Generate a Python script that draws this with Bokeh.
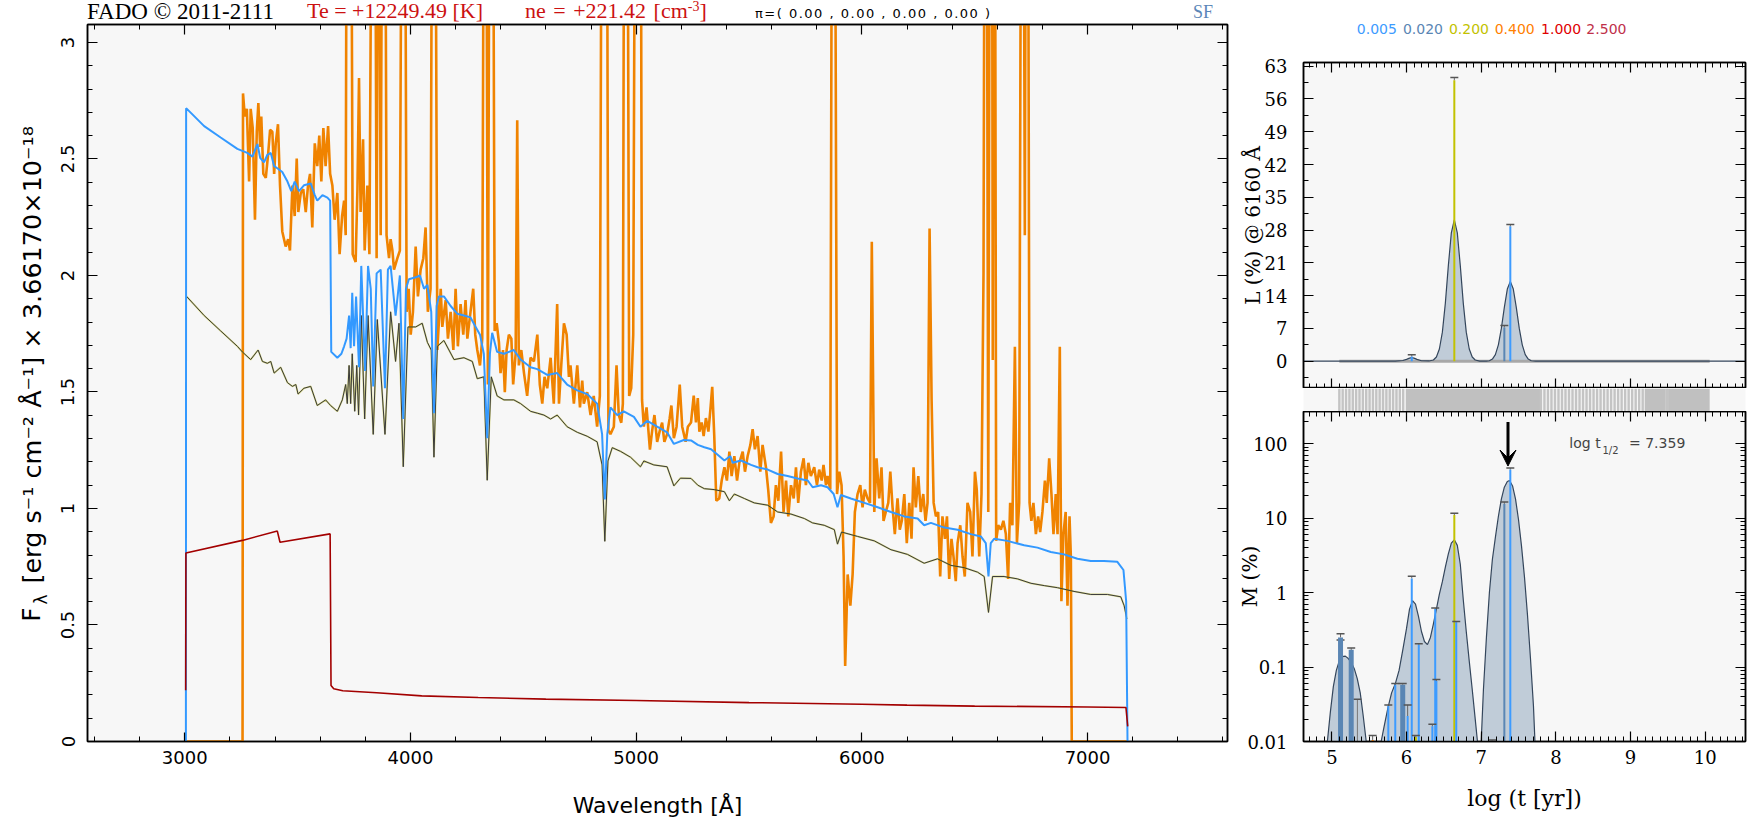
from math import pi
from bokeh.plotting import figure
from bokeh.layouts import row, column
from bokeh.models import (Range1d, LinearAxis, LogAxis, SingleIntervalTicker, FixedTicker,
                          CustomJSTickFormatter, Label, Arrow, VeeHead, Div)
from bokeh.core.properties import value
from bokeh.embed import file_html
from bokeh.resources import INLINE

T = 4.5  # emission peaks running off the top of the panel

# ---------------- header values ----------------
Te_K = 12249.49
ne_cm3 = 221.42
pi_vals = [0.00, 0.00, 0.00, 0.00]

# ---------------- main panel: spectra (wavelength [A], flux) ----------------
orange_obs = [
    (3005, 0.0), (3256, 0.0), (3258, 2.781), (3266, 2.682), (3275, 2.715), (3285, 2.403), (3292, 2.715),
    (3301, 2.633), (3311, 2.239), (3319, 2.617), (3326, 2.740), (3334, 2.551), (3339, 2.682), (3348, 2.436),
    (3359, 2.419), (3369, 2.518), (3378, 2.625), (3388, 2.617), (3396, 2.436), (3403, 2.567), (3413, 2.649),
    (3422, 2.386), (3432, 2.189), (3447, 2.124), (3458, 2.156), (3466, 2.107), (3477, 2.386), (3487, 2.255),
    (3496, 2.502), (3503, 2.272), (3514, 2.354), (3525, 2.370), (3536, 2.272), (3546, 2.386), (3555, 2.436),
    (3565, 2.206), (3576, 2.567), (3587, 2.469), (3596, 2.600), (3605, 2.403), (3614, 2.633), (3624, 2.469),
    (3635, 2.641), (3644, 2.436), (3654, 2.386), (3664, 2.239), (3676, 2.354), (3686, 2.091), (3697, 2.255),
    (3706, 2.321), (3713, 2.173), (3719, T), (3735, T), (3744, 2.091), (3757, 2.058), (3765, 2.370),
    (3772, 2.847), (3779, 2.272), (3790, 2.584), (3797, 2.107), (3809, 2.386), (3818, 2.091), (3832, T),
    (3841, T), (3850, 2.074), (3859, T), (3868, 2.173), (3877, T), (3886, T), (3894, 2.173), (3905, 2.074),
    (3912, 2.156), (3920, 2.107), (3927, 2.025), (3942, 2.074), (3953, 2.107), (3964, T), (3974, T),
    (3983, 1.844), (3992, 1.943), (4001, 1.746), (4011, 1.844), (4023, 2.124), (4033, 1.910), (4045, 2.025),
    (4057, 2.074), (4067, 2.206), (4077, 1.844), (4089, 1.943), (4098, T), (4108, T), (4119, 1.680),
    (4134, 1.943), (4141, 1.779), (4156, 1.894), (4166, 1.729), (4178, 1.844), (4190, 1.680), (4200, 1.943),
    (4210, 1.696), (4222, 1.877), (4234, 1.746), (4244, 1.894), (4252, 1.729), (4266, 1.844), (4278, 1.943),
    (4287, 1.746), (4296, 1.680), (4308, 1.614), (4318, 1.729), (4327, T), (4334, T), (4343, 1.532),
    (4352, T), (4364, T), (4373, 1.762), (4382, 1.795), (4392, 1.713), (4399, 1.581), (4410, 1.680),
    (4418, 1.499), (4426, 1.680), (4436, 1.746), (4447, 1.729), (4455, 1.532), (4466, 1.664), (4473, 2.666),
    (4480, 1.614), (4491, 1.680), (4503, 1.581), (4517, 1.483), (4532, 1.647), (4547, 1.631), (4562, 1.746),
    (4573, 1.532), (4584, 1.450), (4594, 1.565), (4606, 1.516), (4621, 1.647), (4635, 1.450), (4650, 1.877),
    (4658, 1.450), (4668, 1.614), (4680, 1.795), (4692, 1.746), (4702, 1.565), (4709, 1.614), (4724, 1.450),
    (4739, 1.614), (4751, 1.434), (4761, 1.549), (4768, 1.450), (4783, 1.499), (4798, 1.401), (4812, 1.483),
    (4827, 1.351), (4839, 1.483), (4849, T), (4869, T), (4877, 1.335), (4886, 1.319), (4901, 1.351),
    (4913, 1.614), (4923, 1.401), (4934, 1.368), (4941, 1.450), (4948, T), (4960, T), (4969, 1.483),
    (4978, 1.516), (4987, 1.746), (4997, T), (5019, T), (5026, 1.466), (5034, 1.351), (5046, 1.434),
    (5061, 1.253), (5071, 1.335), (5081, 1.401), (5093, 1.286), (5105, 1.335), (5115, 1.368), (5125, 1.286),
    (5137, 1.319), (5148, 1.384), (5156, 1.442), (5167, 1.302), (5179, 1.351), (5193, 1.532), (5204, 1.351),
    (5219, 1.286), (5229, 1.351), (5243, 1.369), (5255, 1.484), (5265, 1.369), (5273, 1.474), (5280, 1.330),
    (5290, 1.369), (5299, 1.311), (5309, 1.388), (5320, 1.330), (5329, 1.426), (5337, 1.522), (5346, 1.311),
    (5355, 1.033), (5368, 1.043), (5379, 1.120), (5391, 1.177), (5402, 1.120), (5413, 1.244), (5423, 1.139),
    (5435, 1.225), (5447, 1.120), (5457, 1.196), (5472, 1.244), (5482, 1.158), (5494, 1.225), (5506, 1.273),
    (5516, 1.340), (5526, 1.254), (5538, 1.311), (5550, 1.158), (5560, 1.273), (5575, 1.177), (5585, 1.081),
    (5597, 0.938), (5609, 0.966), (5619, 1.100), (5630, 1.033), (5642, 1.244), (5653, 0.985), (5664, 1.120),
    (5674, 0.966), (5686, 1.100), (5698, 1.043), (5708, 1.177), (5718, 1.024), (5730, 1.158), (5742, 1.215),
    (5752, 1.100), (5763, 1.196), (5774, 1.139), (5789, 1.177), (5801, 1.100), (5811, 1.167), (5822, 1.120),
    (5830, 1.187), (5841, 1.100), (5848, 1.139), (5860, 1.081), (5869, T), (5879, T), (5890, 1.062),
    (5900, 1.158), (5910, 1.100), (5919, 0.794), (5926, 0.324), (5937, 0.717), (5949, 0.583), (5959, 0.717),
    (5969, 0.985), (5981, 1.062), (5993, 1.100), (6003, 1.005), (6013, 1.081), (6025, 1.043), (6036, 1.024),
    (6044, 2.145), (6055, 0.985), (6065, 1.215), (6077, 1.043), (6087, 1.177), (6096, 0.947), (6106, 0.985),
    (6117, 1.024), (6126, 1.158), (6136, 1.005), (6146, 0.890), (6158, 1.043), (6168, 0.909), (6177, 0.947),
    (6188, 1.062), (6199, 0.851), (6210, 1.024), (6220, 0.870), (6229, 1.177), (6239, 1.005), (6250, 1.139),
    (6261, 0.985), (6272, 1.062), (6282, 0.947), (6291, 1.024), (6300, 2.202), (6309, 1.464), (6318, 1.024),
    (6328, 0.966), (6338, 0.985), (6347, 0.708), (6357, 0.966), (6368, 0.870), (6377, 0.966), (6387, 0.698),
    (6397, 0.870), (6406, 0.794), (6416, 0.688), (6424, 0.851), (6436, 0.928), (6446, 0.794), (6456, 0.708),
    (6468, 1.024), (6480, 0.985), (6490, 0.794), (6501, 1.158), (6509, 1.081), (6520, 0.794), (6530, 1.062),
    (6539, 2.010), (6545, T), (6552, T), (6560, 0.985), (6568, T), (6576, T), (6580, 1.637), (6585, T),
    (6589, T), (6595, 0.861), (6604, 0.928), (6616, 0.909), (6627, 0.947), (6638, 0.890), (6648, 0.698),
    (6657, 1.024), (6667, 0.928), (6678, 1.694), (6687, 0.851), (6697, 1.024), (6707, T), (6715, T),
    (6722, 2.173), (6728, T), (6735, T), (6743, 1.024), (6751, 0.947), (6760, 1.024), (6771, 0.890),
    (6781, 0.966), (6790, 0.899), (6800, 0.985), (6811, 1.120), (6819, 1.024), (6830, 1.215), (6840, 1.062),
    (6849, 0.890), (6859, 1.062), (6867, 0.890), (6877, 1.694), (6884, 0.602), (6893, 0.890), (6903, 0.985),
    (6911, 0.583), (6920, 0.966), (6926, 0.794), (6930, 0.0), (7177, 0.0),
]

blue_fit = [
    (3005, 0.0), (3006, 2.718), (3086, 2.641), (3159, 2.592), (3233, 2.543), (3277, 2.526), (3300, 2.510),
    (3322, 2.564), (3334, 2.505), (3351, 2.485), (3366, 2.518), (3381, 2.526), (3396, 2.469), (3410, 2.460),
    (3432, 2.444), (3455, 2.403), (3472, 2.362), (3487, 2.403), (3506, 2.362), (3528, 2.387), (3558, 2.395),
    (3576, 2.345), (3587, 2.321), (3610, 2.345), (3632, 2.334), (3644, 2.321), (3649, 1.672), (3676, 1.647),
    (3694, 1.664), (3706, 1.696), (3717, 1.729), (3728, 1.828), (3735, 1.688), (3742, 1.926), (3750, 1.696),
    (3759, 1.910), (3772, 1.606), (3782, 2.041), (3799, 1.590), (3812, 2.041), (3824, 1.943), (3835, 1.524),
    (3850, 2.009), (3868, 2.025), (3887, 1.516), (3900, 2.025), (3912, 2.041), (3934, 1.828), (3953, 2.000),
    (3968, 1.384), (3980, 1.943), (3993, 1.984), (4023, 1.992), (4042, 2.000), (4060, 1.943), (4075, 1.959),
    (4092, 1.844), (4104, 1.409), (4116, 1.869), (4126, 1.910), (4148, 1.910), (4178, 1.869), (4207, 1.836),
    (4237, 1.828), (4266, 1.820), (4289, 1.779), (4308, 1.746), (4325, 1.664), (4340, 1.302), (4352, 1.664),
    (4362, 1.754), (4384, 1.672), (4414, 1.664), (4458, 1.680), (4488, 1.639), (4532, 1.606), (4562, 1.598),
    (4606, 1.573), (4650, 1.581), (4694, 1.532), (4739, 1.507), (4783, 1.491), (4827, 1.450), (4849, 1.319),
    (4861, 1.039), (4872, 1.319), (4886, 1.434), (4916, 1.401), (4945, 1.417), (4990, 1.393), (5019, 1.351),
    (5049, 1.376), (5093, 1.351), (5137, 1.327), (5167, 1.277), (5211, 1.294), (5243, 1.292), (5273, 1.273),
    (5302, 1.263), (5332, 1.254), (5361, 1.231), (5391, 1.206), (5417, 1.225), (5428, 1.196), (5464, 1.206),
    (5509, 1.187), (5538, 1.177), (5583, 1.167), (5627, 1.148), (5671, 1.139), (5715, 1.129), (5760, 1.120),
    (5782, 1.091), (5819, 1.100), (5848, 1.091), (5875, 1.062), (5892, 1.005), (5907, 1.058), (5951, 1.043),
    (6011, 1.024), (6070, 1.005), (6129, 0.985), (6188, 0.966), (6247, 0.957), (6276, 0.928), (6306, 0.938),
    (6365, 0.918), (6424, 0.909), (6483, 0.890), (6527, 0.880), (6549, 0.851), (6561, 0.708), (6571, 0.851),
    (6586, 0.870), (6645, 0.861), (6719, 0.842), (6778, 0.832), (6837, 0.813), (6896, 0.803), (6955, 0.784),
    (7014, 0.775), (7073, 0.775), (7132, 0.771), (7159, 0.736), (7171, 0.602), (7177, 0.0),
]

stellar = [
    (3008, 1.910), (3086, 1.828), (3159, 1.762), (3233, 1.696), (3255, 1.672), (3292, 1.639), (3325, 1.680),
    (3344, 1.631), (3366, 1.623), (3381, 1.631), (3396, 1.581), (3425, 1.606), (3455, 1.540), (3477, 1.524),
    (3492, 1.532), (3502, 1.491), (3528, 1.516), (3558, 1.524), (3587, 1.442), (3624, 1.466), (3646, 1.442),
    (3676, 1.417), (3698, 1.466), (3713, 1.532), (3720, 1.450), (3728, 1.614), (3735, 1.450), (3742, 1.664),
    (3753, 1.417), (3762, 1.614), (3770, 1.401), (3782, 1.828), (3797, 1.384), (3812, 1.828), (3835, 1.318),
    (3853, 1.811), (3887, 1.318), (3912, 1.844), (3934, 1.631), (3949, 1.795), (3968, 1.179), (3989, 1.779),
    (4023, 1.779), (4052, 1.795), (4075, 1.713), (4092, 1.680), (4104, 1.220), (4119, 1.696), (4148, 1.721),
    (4193, 1.639), (4237, 1.647), (4274, 1.631), (4296, 1.557), (4325, 1.565), (4340, 1.121), (4358, 1.565),
    (4384, 1.483), (4414, 1.466), (4458, 1.466), (4488, 1.450), (4532, 1.417), (4562, 1.409), (4591, 1.401),
    (4621, 1.384), (4650, 1.401), (4694, 1.351), (4739, 1.327), (4783, 1.310), (4827, 1.286), (4849, 1.187),
    (4861, 0.859), (4875, 1.204), (4894, 1.261), (4931, 1.245), (4975, 1.220), (5019, 1.179), (5034, 1.204),
    (5078, 1.187), (5137, 1.179), (5167, 1.097), (5196, 1.130), (5243, 1.129), (5273, 1.100), (5302, 1.085),
    (5346, 1.081), (5391, 1.072), (5413, 1.033), (5435, 1.062), (5479, 1.043), (5523, 1.024), (5583, 1.014),
    (5627, 0.985), (5686, 0.976), (5745, 0.957), (5782, 0.938), (5833, 0.928), (5878, 0.909), (5892, 0.847),
    (5910, 0.899), (5981, 0.880), (6055, 0.861), (6129, 0.823), (6202, 0.803), (6276, 0.765), (6335, 0.784),
    (6394, 0.756), (6453, 0.746), (6512, 0.727), (6542, 0.708), (6561, 0.554), (6579, 0.708), (6630, 0.708),
    (6689, 0.698), (6749, 0.679), (6808, 0.669), (6867, 0.660), (6940, 0.644), (7014, 0.631), (7088, 0.631),
    (7147, 0.621), (7162, 0.583), (7174, 0.526),
]

nebular = [
    (3004, 0.22), (3005, 0.809), (3255, 0.863), (3410, 0.903), (3422, 0.855), (3644, 0.891), (3648, 0.240),
    (3660, 0.226), (3700, 0.218), (3850, 0.209), (4050, 0.196), (4300, 0.189), (4600, 0.182), (5000, 0.176),
    (5500, 0.167), (6000, 0.160), (6200, 0.156), (6500, 0.152), (7000, 0.148), (7170, 0.146), (7178, 0.065),
]

# ---------------- right panels: star-formation history ----------------
Z_labels = ["0.005", "0.020", "0.200", "0.400", "1.000", "2.500"]

L_logt = [4.62, 5.85, 5.95, 6.00, 6.04, 6.07, 6.10, 6.14, 6.20, 6.30, 6.36, 6.40, 6.44, 6.48, 6.52,
          6.56, 6.60, 6.64, 6.68, 6.72, 6.76, 6.80, 6.84, 6.88, 6.92, 6.98, 7.07, 7.11, 7.15, 7.19,
          7.23, 7.27, 7.31, 7.35, 7.39, 7.43, 7.47, 7.51, 7.55, 7.59, 7.63, 7.67, 7.73, 7.80, 10.54]
L_pct = [0.0, 0.0, 0.15, 0.4, 0.65, 0.75, 0.65, 0.4, 0.1, 0.05, 0.25, 0.9, 2.6, 6.2, 12.4,
         20.4, 27.4, 30.2, 27.4, 20.4, 12.4, 6.2, 2.6, 0.9, 0.25, 0.03, 0.02, 0.1, 0.45, 1.4,
         3.5, 7.0, 11.5, 15.4, 17.0, 15.4, 11.5, 7.0, 3.5, 1.4, 0.45, 0.1, 0.02, 0.0, 0.0]

L_bar_logt = [6.07, 6.64, 7.31, 7.39]
L_bar_pct = [1.0, 60.0, 7.2, 28.8]
L_bar_top = [1.4, 60.6, 7.6, 29.2]
L_bar_z = ["0.005", "0.200", "0.020", "0.005"]

M_logt = [4.62, 4.93, 4.94, 4.98, 5.02, 5.06, 5.10, 5.14, 5.18, 5.22, 5.26, 5.30, 5.34, 5.38, 5.42,
          5.46, 5.47, 5.65, 5.66, 5.70, 5.75, 5.80, 5.85, 5.90, 5.95, 6.00, 6.04, 6.08, 6.12, 6.16,
          6.20, 6.24, 6.28, 6.32, 6.36, 6.40, 6.44, 6.48, 6.52, 6.56, 6.60, 6.64, 6.68, 6.72, 6.76,
          6.80, 6.84, 6.88, 6.92, 6.95, 6.96, 6.99, 7.00, 7.03, 7.07, 7.11, 7.15, 7.19, 7.23, 7.27,
          7.31, 7.35, 7.38, 7.42, 7.46, 7.50, 7.54, 7.58, 7.62, 7.66, 7.70, 7.72, 7.73, 10.54]
M_pct = [1e-4, 1e-4, 0.01, 0.025, 0.055, 0.09, 0.122, 0.138, 0.14, 0.13, 0.115, 0.095, 0.07, 0.045, 0.022,
         0.01, 1e-4, 1e-4, 0.01, 0.016, 0.028, 0.045, 0.06, 0.09, 0.17, 0.33, 0.6, 0.78, 0.7, 0.48,
         0.3, 0.22, 0.2, 0.25, 0.38, 0.6, 0.95, 1.4, 2.2, 3.3, 4.6, 5.1, 4.3, 2.4, 0.8,
         0.3, 0.12, 0.05, 0.02, 0.01, 1e-4, 1e-4, 0.01, 0.05, 0.25, 1.0, 2.8, 5.5, 10.5, 18.0,
         26.0, 31.0, 32.0, 27.0, 18.0, 9.5, 4.2, 1.6, 0.5, 0.13, 0.03, 0.01, 1e-4, 1e-4]

M_bar_logt = [5.116, 5.259, 5.546, 5.756, 5.849, 5.949, 6.015, 6.07, 6.125, 6.164, 6.346, 6.384, 6.40,
              6.64, 6.666, 7.31, 7.39]
M_bar_pct = [0.25, 0.17, 0.0105, 0.030, 0.058, 0.058, 0.022, 1.55, 0.0115, 0.20, 0.016, 0.60, 0.065,
             11.0, 0.40, 15.5, 45.0]
M_bar_top = [0.28, 0.18, 0.012, 0.031, 0.060, 0.060, 0.031, 1.65, 0.012, 0.205, 0.017, 0.62, 0.068,
             11.6, 0.41, 16.5, 47.0]
M_bar_z = ["0.020", "0.020", "0.400", "0.005", "0.005", "0.020", "0.005", "0.005", "0.200", "0.005",
           "0.005", "0.005", "0.005", "0.200", "0.005", "0.020", "0.005"]
M_err_logt = [5.116, 5.342, 7.146]
M_err_lo = [0.025, 1e-4, 1e-4]
M_err_hi = [0.23, 0.037, 0.0105]

base_sparse_logt = [5.100, 5.145, 5.190, 5.235, 5.280, 5.325, 5.370, 5.415, 5.460, 5.505, 5.550, 5.595,
                    5.640, 5.685, 5.730, 5.775, 5.820, 5.865, 5.910, 5.955, 7.800, 7.847, 7.894, 7.941,
                    7.988, 8.035, 8.082, 8.129, 8.176, 8.223, 8.270, 8.317, 8.364, 8.411, 8.458, 8.505,
                    8.552, 8.599, 8.646, 8.693, 8.740, 8.787, 8.834, 8.881, 8.928, 8.975, 9.022, 9.069,
                    9.116, 9.163, 9.480, 9.500]
base_dense_lo = [5.99, 9.19, 9.515]
base_dense_hi = [7.79, 9.465, 10.06]

logt_half = 7.359

# ---------------- styling ----------------
ZCOL = {"0.005": "#3d9bff", "0.020": "#5a86b4", "0.200": "#c2c200",
        "0.400": "#ff8000", "1.000": "#e00000", "2.500": "#c0304a"}
BG = "#f7f7f7"
SANS = "DejaVu Sans"
SERIF = "DejaVu Serif"


def style(ax, tick_in, minor_in, font=SANS, size="18px", standoff=10, labels=True):
    ax.major_tick_in = tick_in
    ax.major_tick_out = 0
    ax.minor_tick_in = minor_in
    ax.minor_tick_out = 0
    ax.axis_line_color = "black"
    ax.axis_line_width = 1.5
    ax.major_tick_line_color = "black"
    ax.minor_tick_line_color = "black"
    ax.major_tick_line_width = 1.2
    ax.minor_tick_line_width = 1.0
    if labels:
        ax.major_label_text_font = font
        ax.major_label_text_font_size = size
        ax.major_label_text_color = "black"
        ax.major_label_standoff = standoff
    else:
        ax.formatter = CustomJSTickFormatter(code="return '';")
        ax.major_label_text_font_size = "0px"
        ax.major_label_standoff = 0


def axlabel(ax, text, font, size, standoff):
    ax.axis_label = text
    ax.axis_label_text_font = font
    ax.axis_label_text_font_size = size
    ax.axis_label_text_font_style = "normal"
    ax.axis_label_text_color = "black"
    ax.axis_label_standoff = standoff


def xs(pairs):
    return [a for a, _ in pairs]


def ys(pairs):
    return [b for _, b in pairs]


def plain(fig):
    fig.outline_line_color = None
    fig.grid.visible = False
    return fig


# ---------------- header (HTML text line above the spectrum) ----------------
sp = "position:absolute;white-space:nowrap;"
pi_txt = "π=( " + " , ".join("%.2f" % v for v in pi_vals) + " )"
header_html = (
    '<div style="position:relative;width:1235px;height:23px;">'
    f'<span style="{sp}left:87px;top:0px;line-height:23px;font-family:\'Liberation Serif\';'
    'font-size:23px;color:#000;">FADO © 2011-2111</span>'
    f'<span style="{sp}left:307px;top:0px;line-height:22px;font-family:\'Liberation Serif\';'
    f'font-size:22px;color:#cc1111;">Te = +{Te_K:.2f} [K]</span>'
    f'<span style="{sp}left:525px;top:0px;line-height:22px;font-family:\'Liberation Serif\';'
    f'font-size:22px;color:#cc1111;word-spacing:2px;">ne = +{ne_cm3:.2f} [cm'
    '<sup style="font-size:14px;vertical-align:7px;line-height:0;">-3</sup>]</span>'
    f'<span style="{sp}left:755px;top:7px;line-height:13px;font-family:\'DejaVu Sans\';'
    f'font-size:13px;letter-spacing:1.5px;color:#000;">{pi_txt}</span>'
    f'<span style="{sp}left:1193px;top:3px;line-height:18px;font-family:\'Liberation Serif\';'
    'font-size:18px;color:#5b86b8;">SF</span>'
    '</div>'
)
header = Div(text=header_html, width=1235, height=23, margin=(0, 0, 0, 0))

# ---------------- main figure ----------------
YR = Range1d(0, 3.077)
main = figure(width=1185, height=802, x_range=Range1d(2569, 7620), y_range=YR,
              output_backend="svg", toolbar_location=None,
              min_border_left=37, min_border_right=8, min_border_top=1, min_border_bottom=84,
              background_fill_color=BG, border_fill_color="white")
main.outline_line_color = "black"
main.outline_line_width = 1.5
main.grid.visible = False

main.line(xs(orange_obs), ys(orange_obs), line_color="#f08300", line_width=2.6)
main.line(xs(stellar), ys(stellar), line_color="#b5b500", line_width=1.8, line_alpha=0.45)
main.line(xs(stellar), ys(stellar), line_color="#3a3a3a", line_width=1.0)
main.line(xs(blue_fit), ys(blue_fit), line_color="#3399ff", line_width=2.0)
main.line(xs(nebular), ys(nebular), line_color="#a30000", line_width=1.6)

main.xaxis[0].ticker = SingleIntervalTicker(interval=1000, num_minor_ticks=5)
main.yaxis[0].ticker = SingleIntervalTicker(interval=0.5, num_minor_ticks=5)
main.yaxis[0].formatter = CustomJSTickFormatter(code="return String(Number(tick.toFixed(2)));")
main.yaxis[0].major_label_orientation = "vertical"
style(main.xaxis[0], 9, 5, standoff=9)
style(main.yaxis[0], 10, 5, standoff=13)
axlabel(main.xaxis[0], "Wavelength [Å]", SANS, "22px", 26)
ax_r = LinearAxis(ticker=SingleIntervalTicker(interval=0.5, num_minor_ticks=5))
style(ax_r, 10, 5, labels=False)
main.add_layout(ax_r, "right")
ax_t = LinearAxis(ticker=SingleIntervalTicker(interval=1000, num_minor_ticks=5))
style(ax_t, 10, 5, labels=False)
main.add_layout(ax_t, "above")

# y-axis title (with subscript) in its own strip, sharing the flux scale
ylab = plain(figure(width=50, height=802, x_range=Range1d(0, 50), y_range=YR,
                    output_backend="svg", toolbar_location=None,
                    min_border_left=0, min_border_right=0, min_border_top=1, min_border_bottom=84,
                    x_axis_location=None, y_axis_location=None,
                    background_fill_color="white", border_fill_color="white"))
ylab.text(x=[31], y=[0.515], text=["F"], angle=pi / 2, text_font=value(SANS), text_font_size="24px",
          text_align="left", text_baseline="middle", text_color="black")
ylab.text(x=[40], y=[0.588], text=["λ"], angle=pi / 2, text_font=value(SANS), text_font_size="17px",
          text_align="left", text_baseline="middle", text_color="black")
ylab.text(x=[31], y=[0.678], text=["[erg s⁻¹  cm⁻²  Å⁻¹]  ×  3.66170×10⁻¹⁸"], angle=pi / 2,
          text_font=value(SANS), text_font_size="25.5px", text_align="left", text_baseline="middle",
          text_color="black")

# ---------------- right: metallicity legend row ----------------
legend_x = [1297.5, 1351.5, 1405.4, 1459.0, 1513.4, 1566.5]
zleg = plain(figure(width=518, height=48, x_range=Range1d(1235, 1753), y_range=Range1d(48, 0),
                    output_backend="svg", toolbar_location=None,
                    min_border_left=0, min_border_right=0, min_border_top=0, min_border_bottom=0,
                    x_axis_location=None, y_axis_location=None,
                    background_fill_color="white", border_fill_color="white"))
zleg.text(x=legend_x, y=[28] * len(Z_labels), text=Z_labels, text_color=[ZCOL[z] for z in Z_labels],
          text_font=value(SANS), text_font_size="14px", text_align="left", text_baseline="middle")

# ---------------- right: luminosity panel ----------------
XR = Range1d(4.62, 10.54)
Lp = figure(width=518, height=340, x_range=XR, y_range=Range1d(-5.83, 63.78),
            output_backend="svg", toolbar_location=None,
            min_border_left=62, min_border_right=8, min_border_top=14, min_border_bottom=0,
            background_fill_color=BG, border_fill_color="white", x_axis_location=None)
Lp.outline_line_color = "black"
Lp.outline_line_width = 1.5
Lp.grid.visible = False
Lp.varea(x=L_logt, y1=0, y2=L_pct, fill_color="#c0ccd8")
Lp.line([5.10, 10.06], [0, 0], line_color="#a8a8a8", line_width=3)
Lp.line(L_logt, L_pct, line_color="#34465c", line_width=1.2)
Lp.segment(x0=L_bar_logt, y0=[0] * len(L_bar_logt), x1=L_bar_logt, y1=L_bar_pct,
           line_color=[ZCOL[z] for z in L_bar_z], line_width=2)
Lp.segment(x0=L_bar_logt, y0=L_bar_pct, x1=L_bar_logt, y1=L_bar_top, line_color="#666666", line_width=1)
Lp.scatter(L_bar_logt, L_bar_top, marker="dash", size=8, line_color="#555555", line_width=1.5)

Lp.yaxis[0].ticker = SingleIntervalTicker(interval=7, num_minor_ticks=2)
style(Lp.yaxis[0], 10, 5, font=SERIF, size="18px", standoff=16)
axlabel(Lp.yaxis[0], "L (%) @ 6160 Å", SERIF, "20px", -3)
for loc in ["above", "below"]:
    a = LinearAxis(ticker=SingleIntervalTicker(interval=1, num_minor_ticks=10))
    style(a, 10, 5, labels=False)
    Lp.add_layout(a, loc)
a = LinearAxis(ticker=SingleIntervalTicker(interval=7, num_minor_ticks=2))
style(a, 10, 5, labels=False)
Lp.add_layout(a, "right")

# ---------------- base-age strip ----------------
strip = plain(figure(width=518, height=23, x_range=XR, y_range=Range1d(0, 1),
                     output_backend="svg", toolbar_location=None,
                     min_border_left=62, min_border_right=8, min_border_top=0, min_border_bottom=0,
                     background_fill_color=BG, border_fill_color="white",
                     x_axis_location=None, y_axis_location=None))
strip.quad(left=base_dense_lo, right=base_dense_hi, bottom=0, top=1, fill_color="#c0c0c0", line_color=None)
strip.segment(x0=base_sparse_logt, y0=0, x1=base_sparse_logt, y1=1, line_color="#c4c4c4", line_width=2.4)

# ---------------- right: mass panel ----------------
Mp = figure(width=518, height=414, x_range=XR, y_range=Range1d(0.01, 270), y_axis_type="log",
            output_backend="svg", toolbar_location=None,
            min_border_left=62, min_border_right=8, min_border_top=0, min_border_bottom=84,
            background_fill_color=BG, border_fill_color="white")
Mp.outline_line_color = "black"
Mp.outline_line_width = 1.5
Mp.grid.visible = False
Mp.varea(x=M_logt, y1=1e-4, y2=M_pct, fill_color="#c0ccd8")
Mp.line(M_logt, M_pct, line_color="#34465c", line_width=1.2)
Mp.segment(x0=M_err_logt, y0=M_err_lo, x1=M_err_logt, y1=M_err_hi, line_color="#777777", line_width=1)
Mp.scatter(M_err_logt, M_err_hi, marker="dash", size=8, line_color="#555555", line_width=1.5)
m_w = [5 if (z == "0.020" and v < 1) else 2 for z, v in zip(M_bar_z, M_bar_pct)]
Mp.segment(x0=M_bar_logt, y0=[1e-4] * len(M_bar_logt), x1=M_bar_logt, y1=M_bar_pct,
           line_color=[ZCOL[z] for z in M_bar_z], line_width=m_w)
Mp.segment(x0=M_bar_logt, y0=M_bar_pct, x1=M_bar_logt, y1=M_bar_top, line_color="#666666", line_width=1)
Mp.scatter(M_bar_logt, M_bar_top, marker="dash", size=8, line_color="#555555", line_width=1.5)

major_log = [0.01, 0.1, 1, 10, 100]
minor_log = [0.02, 0.03, 0.04, 0.05, 0.06, 0.07, 0.08, 0.09, 0.2, 0.3, 0.4, 0.5, 0.6, 0.7, 0.8, 0.9,
             2, 3, 4, 5, 6, 7, 8, 9, 20, 30, 40, 50, 60, 70, 80, 90, 200]
Mp.yaxis[0].ticker = FixedTicker(ticks=major_log, minor_ticks=minor_log)
Mp.yaxis[0].formatter = CustomJSTickFormatter(code="return String(Number(tick.toPrecision(2)));")
style(Mp.yaxis[0], 10, 5, font=SERIF, size="18px", standoff=16)
axlabel(Mp.yaxis[0], "M (%)", SERIF, "20px", -18)
a = LogAxis(ticker=FixedTicker(ticks=major_log, minor_ticks=minor_log))
style(a, 10, 5, labels=False)
Mp.add_layout(a, "right")
Mp.xaxis[0].ticker = SingleIntervalTicker(interval=1, num_minor_ticks=10)
style(Mp.xaxis[0], 10, 5, font=SERIF, size="18px", standoff=8)
axlabel(Mp.xaxis[0], "log (t [yr])", SERIF, "22px", 19)
a = LinearAxis(ticker=SingleIntervalTicker(interval=1, num_minor_ticks=10))
style(a, 10, 5, labels=False)
Mp.add_layout(a, "above")

Mp.add_layout(Arrow(end=VeeHead(size=16, fill_color="black", line_color="black"),
                    x_start=logt_half, y_start=195, x_end=logt_half, y_end=50,
                    line_color="black", line_width=3))
Mp.add_layout(Label(x=8.181, y=103, text="log t", text_font=SANS, text_font_size="14px",
                    text_baseline="middle"))
Mp.add_layout(Label(x=8.624, y=80, text="1/2", text_font=SANS, text_font_size="10px",
                    text_baseline="middle"))
Mp.add_layout(Label(x=8.98, y=103, text="= %.3f" % logt_half, text_font=SANS, text_font_size="14px",
                    text_baseline="middle"))

layout = row(column(header, row(ylab, main)), column(zleg, Lp, strip, Mp))
with open("out.html", "w", encoding="utf-8") as f:
    f.write(file_html(layout, INLINE))
